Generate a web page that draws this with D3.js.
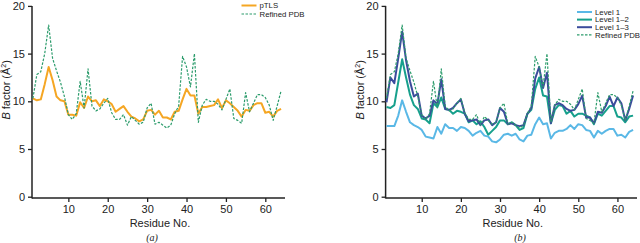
<!DOCTYPE html>
<html><head><meta charset="utf-8">
<script src="https://cdn.jsdelivr.net/npm/d3@7"></script>
<style>body{margin:0;background:#fff}svg{display:block;font-family:"Liberation Sans",Arial,sans-serif}</style>
</head><body><svg id="c" width="640" height="243"></svg>
<script>
const residues = d3.range(1, 65);
const xTicks = [10, 20, 30, 40, 50, 60];
const yTicks = [0, 5, 10, 15, 20];
const refinedPDB = [10.3,12.8,13.1,15.0,18.0,14.5,13.2,12.0,10.5,8.6,8.1,8.7,12.1,9.3,13.4,9.5,9.0,9.2,9.8,10.3,8.8,8.1,8.1,8.6,7.5,8.4,8.0,7.6,7.8,9.3,9.8,7.6,7.8,7.5,7.2,7.5,8.7,9.5,14.7,13.6,11.5,15.0,7.8,9.6,10.2,10.0,10.0,9.7,9.1,10.2,11.3,8.2,8.0,7.7,10.9,8.9,9.8,10.7,10.7,10.4,9.6,8.0,9.5,11.1];
const pTLS = [10.3,10.1,10.2,11.8,13.6,12.2,10.5,10.1,10.0,8.6,8.6,8.5,9.9,9.3,10.5,10.0,10.1,9.5,10.2,10.0,9.7,8.9,9.2,9.5,8.9,8.4,8.2,7.9,8.1,9.0,9.1,8.6,9.0,8.3,8.3,8.1,8.9,9.0,10.2,11.3,10.6,10.6,8.7,9.4,9.4,9.5,9.6,10.2,9.3,10.1,9.8,9.4,9.0,8.4,9.1,9.0,9.6,9.8,9.8,8.8,8.9,8.4,9.0,9.2];
const level1 = [7.4,7.4,7.4,8.5,10.1,8.9,7.8,7.5,7.3,7.0,6.3,6.2,6.1,7.3,6.6,7.6,7.2,7.2,6.9,7.3,7.2,6.9,6.4,6.7,6.9,6.4,6.3,5.8,5.7,6.0,6.5,6.6,6.4,6.6,6.0,5.8,6.4,6.5,7.6,8.3,7.6,7.7,6.1,6.7,6.9,6.9,7.1,7.5,7.1,7.6,7.5,7.0,6.9,6.2,6.9,6.6,6.9,7.1,7.1,6.4,6.5,6.2,6.8,7.0];
const level12 = [9.4,9.3,9.6,12.0,14.4,12.5,10.7,9.6,9.2,8.2,8.1,7.7,9.8,9.4,10.4,9.2,9.1,8.7,9.0,8.9,8.7,7.8,8.0,7.6,7.9,7.3,6.5,6.9,7.3,8.0,8.0,7.6,7.8,7.5,7.0,7.2,8.7,9.1,11.3,12.5,10.6,10.5,7.7,9.1,9.6,9.5,8.7,9.0,8.4,8.7,8.7,8.5,8.3,7.6,8.7,8.5,9.0,9.5,9.5,8.4,8.3,7.8,8.4,8.5];
const level13 = [9.9,12.5,11.9,14.5,17.3,14.3,12.1,10.5,10.8,8.5,8.2,8.5,10.1,9.7,12.3,9.2,9.1,9.3,9.8,10.2,8.7,7.9,8.0,8.1,7.5,8.0,8.1,7.5,7.8,9.3,8.9,7.6,7.7,7.5,7.4,7.5,8.7,9.3,12.4,13.6,11.4,13.0,7.7,9.6,9.8,9.6,9.2,9.0,9.1,9.7,10.6,8.3,8.3,7.7,8.9,8.8,9.5,10.5,9.5,10.4,9.8,8.0,9.2,10.6];

const C = {pTLS:"#f5a623", pdb:"#2c9c6c", l1:"#5ab8e6", l12:"#17a08c", l13:"#3b4c9c"};
const svg = d3.select("#c");

function panel(x0, x1, label, lx, series, legend, legX, legY0, legStep) {
  const x = d3.scaleLinear().domain([1, 65]).range([x0, x1]);
  const y = d3.scaleLinear().domain([0, 20]).range([196.7, 5.9]);
  const axisX = x0 - 0.9;
  const g = svg.append("g");
  const yAx = g.append("g").attr("transform", `translate(${axisX},0)`)
    .call(d3.axisLeft(y).tickValues(yTicks).tickSize(4).tickPadding(3));
  const xAx = g.append("g").attr("transform", `translate(0,198)`)
    .call(d3.axisBottom(x).tickValues(xTicks).tickSize(4).tickPadding(3));
  [yAx, xAx].forEach(a => {
    a.selectAll("text").attr("font-size", 11).attr("fill", "#222").attr("font-family", "Liberation Sans, Arial, sans-serif");
    a.selectAll("line").attr("stroke", "#222").attr("stroke-width", 1.3);
    a.select(".domain").remove();
  });
  g.append("line").attr("x1", axisX).attr("x2", axisX).attr("y1", y(20)).attr("y2", 198.5).attr("stroke", "#222").attr("stroke-width", 1.5);
  g.append("line").attr("x1", axisX).attr("x2", x(65)).attr("y1", 198).attr("y2", 198).attr("stroke", "#222").attr("stroke-width", 1.5);

  const line = d3.line().x((d, i) => x(residues[i])).y(d => y(d));
  series.forEach(s => {
    g.append("path").attr("d", line(s.data)).attr("fill", "none")
      .attr("stroke", s.color).attr("stroke-width", s.w)
      .attr("stroke-dasharray", s.dash || null).attr("stroke-linejoin", "round");
  });
  g.append("text").attr("x", (x0 + x1) / 2 + 1).attr("y", 227).attr("text-anchor", "middle")
    .attr("font-size", 11).attr("fill", "#222").text("Residue No.");
  g.append("text").attr("x", lx).attr("y", 241).attr("text-anchor", "middle")
    .attr("font-size", 10).attr("font-style", "italic").attr("font-family", "Liberation Serif, Times New Roman, serif")
    .attr("fill", "#222").text(`(${label})`);
  const yl = g.append("text").attr("transform", `translate(${axisX - 22},${y(11.2)}) rotate(-90)`)
    .attr("text-anchor", "middle").attr("font-size", 11).attr("fill", "#222");
  yl.append("tspan").attr("font-style", "italic").text("B");
  yl.append("tspan").text(" factor (Å");
  yl.append("tspan").attr("font-size", 7).attr("dy", -4).text("2");
  yl.append("tspan").attr("dy", 4).text(")");

  legend.forEach((s, i) => {
    const yy = legY0 + i * legStep;
    g.append("line").attr("x1", legX).attr("x2", legX + 15).attr("y1", yy).attr("y2", yy)
      .attr("stroke", s.color).attr("stroke-width", s.w).attr("stroke-dasharray", s.dash || null);
    g.append("text").attr("x", legX + 18).attr("y", yy + 2.8).attr("font-size", 7.8).attr("fill", "#222").text(s.name);
  });
}

const sPDB = {name: "Refined PDB", data: refinedPDB, color: C.pdb, w: 1.2, dash: "2.5,1.5"};
const sTLS = {name: "pTLS", data: pTLS, color: C.pTLS, w: 2};
panel(32.9, 285, "a", 152, [sTLS, sPDB], [sTLS, sPDB], 241.5, 5.5, 8.5);

const s1 = {name: "Level 1", data: level1, color: C.l1, w: 2};
const s12 = {name: "Level 1\u20132", data: level12, color: C.l12, w: 2};
const s13 = {name: "Level 1\u20133", data: level13, color: C.l13, w: 2};
panel(386.5, 637, "b", 520, [s1, s12, s13, sPDB], [s1, s12, s13, sPDB], 577, 12, 7.6);
</script></body></html>
